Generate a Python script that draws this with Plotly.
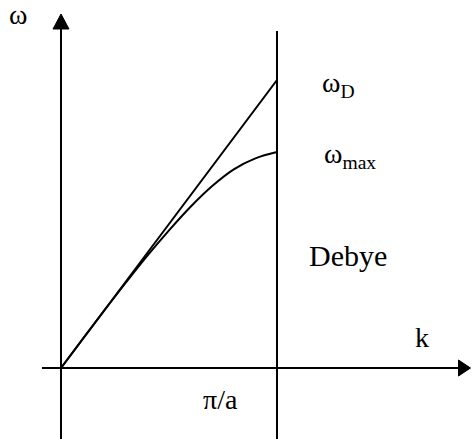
import plotly.graph_objects as go

# wave number in units of pi/a, frequency in units of omega_D
k_debye = [0.0, 1.0]
w_debye = [0.0, 1.0]

k_disp = [0.0, 0.1, 0.2, 0.3, 0.4, 0.5, 0.6, 0.7, 0.8, 0.9, 1.0]
w_disp = [0.0, 0.100, 0.199, 0.296, 0.390, 0.478, 0.560, 0.632, 0.690, 0.728, 0.750]

k_zone_edge = 1.0
w_D = w_debye[-1]
w_max = w_disp[-1]

# plot window (data units)
X_MIN, X_MAX = -61 / 216, 410 / 216
Y_MIN, Y_MAX = -71 / 288, 368 / 288
PX_X = (X_MAX - X_MIN) / 471
PX_Y = (Y_MAX - Y_MIN) / 439

FONT = "Liberation Serif, Times New Roman, serif"
BLACK = "#000000"

fig = go.Figure()

line_style = dict(color=BLACK, width=2)

# axes
x_axis_start, x_axis_end = X_MIN + 42 * PX_X, X_MAX - 0.5 * PX_X
y_axis_top = Y_MAX - 14 * PX_Y
fig.add_trace(go.Scatter(x=[x_axis_start, x_axis_end - 6 * PX_X], y=[0, 0],
                         mode="lines", line=line_style, hoverinfo="skip"))
fig.add_trace(go.Scatter(x=[0, 0], y=[Y_MIN, y_axis_top - 6 * PX_Y],
                         mode="lines", line=line_style, hoverinfo="skip"))

# arrow heads
ah_len, ah_half = 12, 8
fig.add_trace(go.Scatter(
    x=[x_axis_end, x_axis_end - ah_len * PX_X, x_axis_end - ah_len * PX_X, x_axis_end],
    y=[0, ah_half * PX_Y, -ah_half * PX_Y, 0],
    mode="lines", fill="toself", fillcolor=BLACK, line=dict(color=BLACK, width=1),
    hoverinfo="skip"))
fig.add_trace(go.Scatter(
    x=[0, ah_half * PX_X, -ah_half * PX_X, 0],
    y=[y_axis_top, y_axis_top - 15 * PX_Y, y_axis_top - 15 * PX_Y, y_axis_top],
    mode="lines", fill="toself", fillcolor=BLACK, line=dict(color=BLACK, width=1),
    hoverinfo="skip"))

# zone boundary at pi/a
fig.add_trace(go.Scatter(x=[k_zone_edge, k_zone_edge], y=[Y_MIN, Y_MAX - 31 * PX_Y],
                         mode="lines", line=line_style, hoverinfo="skip"))

# Debye approximation and the real dispersion curve
fig.add_trace(go.Scatter(x=k_debye, y=w_debye, mode="lines",
                         line=line_style, hoverinfo="skip"))
fig.add_trace(go.Scatter(x=k_disp, y=w_disp, mode="lines", line_shape="spline",
                         line=line_style, hoverinfo="skip"))

def label(text, x, y, size=28):
    fig.add_annotation(x=x, y=y, text=text, showarrow=False, xanchor="left",
                       yanchor="middle", font=dict(family=FONT, size=size, color=BLACK))

label("ω", X_MIN + 7 * PX_X, Y_MAX - 14 * PX_Y)
label("ω<sub>D</sub>", 1.2, w_D - 4 * PX_Y)
label("ω<sub>max</sub>", 1.21, w_max - 3 * PX_Y)
label("Debye", 1.14, 0.38 + 3 * PX_Y, size=30)
label("k", 1.63, 0.10 + 2 * PX_Y)
label("π/a", 0.65, -0.12 + 3 * PX_Y)

fig.update_layout(
    width=471, height=439,
    margin=dict(l=0, r=0, t=0, b=0),
    paper_bgcolor="white", plot_bgcolor="white",
    showlegend=False,
    xaxis=dict(range=[X_MIN, X_MAX], visible=False, fixedrange=True),
    yaxis=dict(range=[Y_MIN, Y_MAX], visible=False, fixedrange=True),
)

fig.write_html("out.html")
